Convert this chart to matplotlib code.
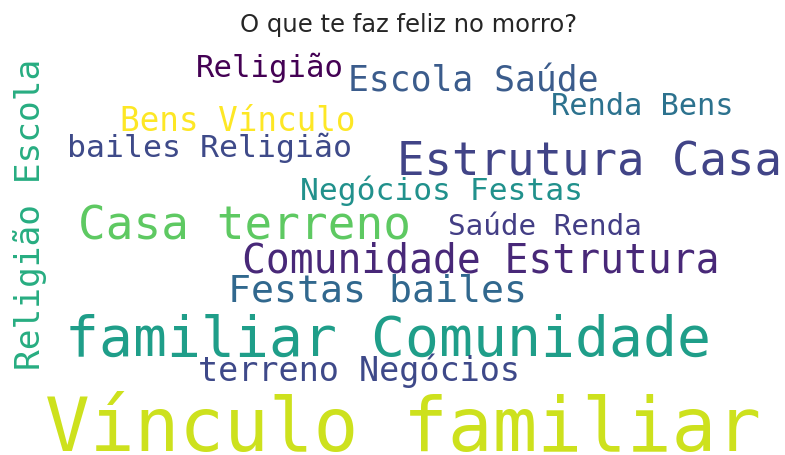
import matplotlib
matplotlib.use("Agg")
import matplotlib.pyplot as plt

title = "O que te faz feliz no morro?"

# words of the cloud, largest first
words = [
    "Vínculo familiar", "familiar Comunidade", "Estrutura Casa", "Casa terreno",
    "Comunidade Estrutura", "Festas bailes", "Religião Escola", "Escola Saúde",
    "terreno Negócios", "Bens Vínculo", "bailes Religião", "Negócios Festas",
    "Religião", "Renda Bens", "Saúde Renda",
]

# layout of the cloud (figure pixels): x, baseline y, em size, rotation, colour
x_pos = [45, 65, 397, 78, 242, 228, 40, 348, 198, 120, 67, 300, 196, 551, 448]
y_pos = [451, 356, 176, 240, 273, 302, 370, 91, 381, 131, 157, 200, 77, 115, 235]
em_px = [74.4, 56.4, 45.6, 46, 39.6, 38.2, 34.5, 34.7, 33.5, 32.7, 31.5, 31.3, 30.7, 30.4, 29.4]
rot = [0, 0, 0, 0, 0, 0, 90, 0, 0, 0, 0, 0, 0, 0, 0]
colors = ["#cde11d", "#1f9e89", "#414487", "#5ec962", "#482878", "#31688e",
          "#27ad81", "#3b5c8c", "#3e4989", "#fde725", "#3e4a89", "#21918c",
          "#440154", "#2c728e", "#433e85"]

W, H, DPI = 785, 456, 100
fig = plt.figure(figsize=(W / DPI, H / DPI), dpi=DPI)
ax = fig.add_axes([0, 0, 1, 1])
ax.set_xlim(0, W)
ax.set_ylim(H, 0)
ax.axis("off")

for w, x, y, s, r, c in zip(words, x_pos, y_pos, em_px, rot, colors):
    ax.text(x, y, w, fontsize=s * 72 / DPI, family="DejaVu Sans Mono", color=c,
            rotation=r, rotation_mode="anchor", ha="left", va="baseline")

ax.text(W / 2 + 16, 25, title, fontsize=17.5, color="#262626", ha="center", va="center")

fig.savefig("out.png", dpi=DPI, facecolor="white")
